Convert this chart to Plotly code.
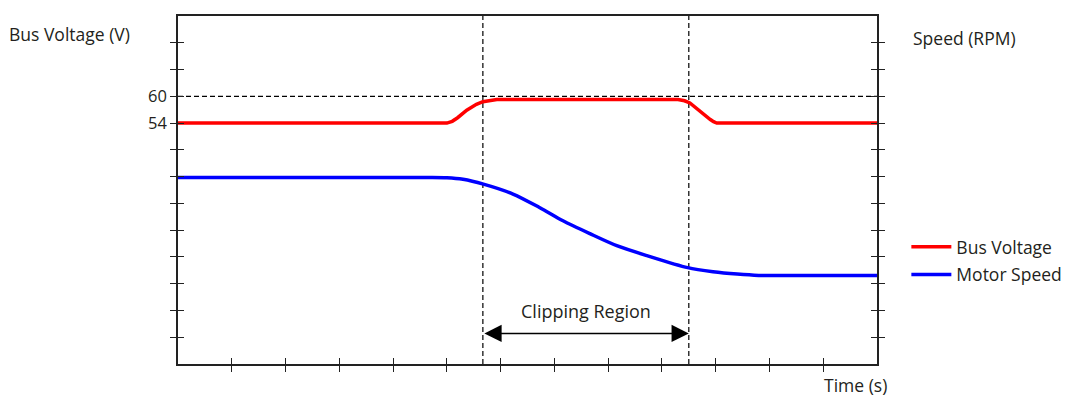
import plotly.graph_objects as go

# ---- data (time in arbitrary units 0..13, voltage in V, speed in arbitrary RPM units) ----
volt_t = [0, 5.0, 5.1, 5.2, 5.37, 5.55, 5.67, 5.8, 5.93, 9.3, 9.42, 9.52, 9.65, 9.77, 9.9, 9.96, 10.02, 13]
volt_v = [54, 54, 54.4, 55.2, 56.9, 58.2, 58.8, 59.1, 59.3, 59.3, 59.0, 58.5, 57.2, 55.9, 54.8, 54.3, 54, 54]

speed_t = [0, 4.6, 5.0, 5.3, 5.68, 6.23, 6.73, 7.16, 7.66, 8.16, 8.72, 9.48, 9.95, 10.4, 10.8, 11.3, 13]
speed_v = [697, 697, 696, 690, 672, 635, 584, 535, 487, 442, 405, 360, 345, 336, 331, 331, 331]

time_ticks = list(range(1, 13))
volt_ticks = list(range(6, 78, 6))
volt_labels = ["54" if v == 54 else "60" if v == 60 else "" for v in volt_ticks]
speed_ticks = list(range(100, 1300, 100))

clip_start, clip_end = 5.67, 9.50
ref_voltage = 60

FONT = "Open Sans"
TXT = "#231f20"
AX = "#222222"
FS = 17.5

fig = go.Figure()
fig.add_trace(go.Scatter(x=volt_t, y=volt_v, mode="lines", name="Bus Voltage",
                         line=dict(color="#ff0000", width=3.5),
                         legendgroup="a", xaxis="x", yaxis="y"))
fig.add_trace(go.Scatter(x=speed_t, y=speed_v, mode="lines", name="Motor Speed",
                         line=dict(color="#0000ff", width=3.5, shape="spline", smoothing=0.8),
                         legendgroup="b", xaxis="x", yaxis="y2"))
# empty helper traces so the overlay tick axes are drawn
for xa, ya in [("x2", "y"), ("x", "y3"), ("x", "y4")]:
    fig.add_trace(go.Scatter(x=[None], y=[None], xaxis=xa, yaxis=ya, showlegend=False,
                             hoverinfo="skip", mode="lines"))

common = dict(showgrid=False, zeroline=False, tickcolor=AX, tickwidth=1.3, ticklen=6)

# page body has an 8px margin: figure is 8px smaller and margins compensate
fig.update_layout(
    width=1066, height=392,
    margin=dict(l=170, r=197, t=6, b=36),
    paper_bgcolor="white", plot_bgcolor="white",
    font=dict(family=FONT, size=FS, color=TXT),
    xaxis=dict(range=[0, 13], tickvals=time_ticks, ticks="outside", showticklabels=False,
               showline=True, linecolor=AX, linewidth=1.6, mirror=True, **common),
    xaxis2=dict(range=[0, 13], tickvals=time_ticks, ticks="inside", showticklabels=False,
                overlaying="x", anchor="y", side="bottom", showline=False, **common),
    yaxis=dict(range=[0, 78], tickvals=volt_ticks, ticktext=volt_labels, ticks="outside",
               showline=True, linecolor=AX, linewidth=1.6,
               tickfont=dict(family=FONT, size=16.5, color=TXT), **common),
    yaxis3=dict(range=[0, 78], tickvals=volt_ticks, ticks="inside", showticklabels=False,
                overlaying="y", side="left", anchor="x", showline=False, **common),
    yaxis2=dict(range=[0, 1300], tickvals=speed_ticks, ticks="outside", showticklabels=False,
                overlaying="y", side="right", anchor="x", showline=True, linecolor=AX,
                linewidth=1.6, **common),
    yaxis4=dict(range=[0, 1300], tickvals=speed_ticks, ticks="inside", showticklabels=False,
                overlaying="y", side="right", anchor="x", showline=False, **common),
    showlegend=True,
    legend=dict(x=1.042, y=0.388, xanchor="left", yanchor="top", traceorder="grouped",
                tracegroupgap=2, font=dict(family=FONT, size=FS, color=TXT),
                bgcolor="rgba(0,0,0,0)", itemwidth=40),
)

dash = dict(color="black", width=1.2, dash="5px,3px")
fig.add_shape(type="line", xref="paper", yref="y", x0=0, x1=1, y0=ref_voltage, y1=ref_voltage,
              line=dash, layer="below")
for xv in (clip_start, clip_end):
    fig.add_shape(type="line", xref="x", yref="paper", x0=xv, x1=xv, y0=0, y1=1,
                  line=dash, layer="below")

# double-headed arrow for clipping region
fig.add_annotation(x=clip_end, y=6.84, ax=clip_start, ay=6.84, xref="x", yref="y",
                   axref="x", ayref="y", text="", showarrow=True, arrowhead=2,
                   startarrowhead=2, arrowside="end+start", arrowwidth=1.5, arrowsize=2.3,
                   startarrowsize=2.3, arrowcolor="black")
fig.add_annotation(x=(clip_start + clip_end) / 2, y=11.8, xref="x", yref="y",
                   text="Clipping Region", showarrow=False,
                   font=dict(family=FONT, size=18, color=TXT))

fig.add_annotation(x=-0.2445, y=0.949, xref="paper", yref="paper", xanchor="left",
                   yanchor="middle", text="Bus Voltage (V)", showarrow=False,
                   font=dict(family=FONT, size=FS, color=TXT))
fig.add_annotation(x=1.048, y=0.938, xref="paper", yref="paper", xanchor="left",
                   yanchor="middle", text="Speed (RPM)", showarrow=False,
                   font=dict(family=FONT, size=FS, color=TXT))
fig.add_annotation(x=1.0165, y=-0.1, xref="paper", yref="paper", xanchor="right",
                   yanchor="bottom", text="Time (s)", showarrow=False,
                   font=dict(family=FONT, size=FS, color=TXT))

fig.write_html("out.html")
